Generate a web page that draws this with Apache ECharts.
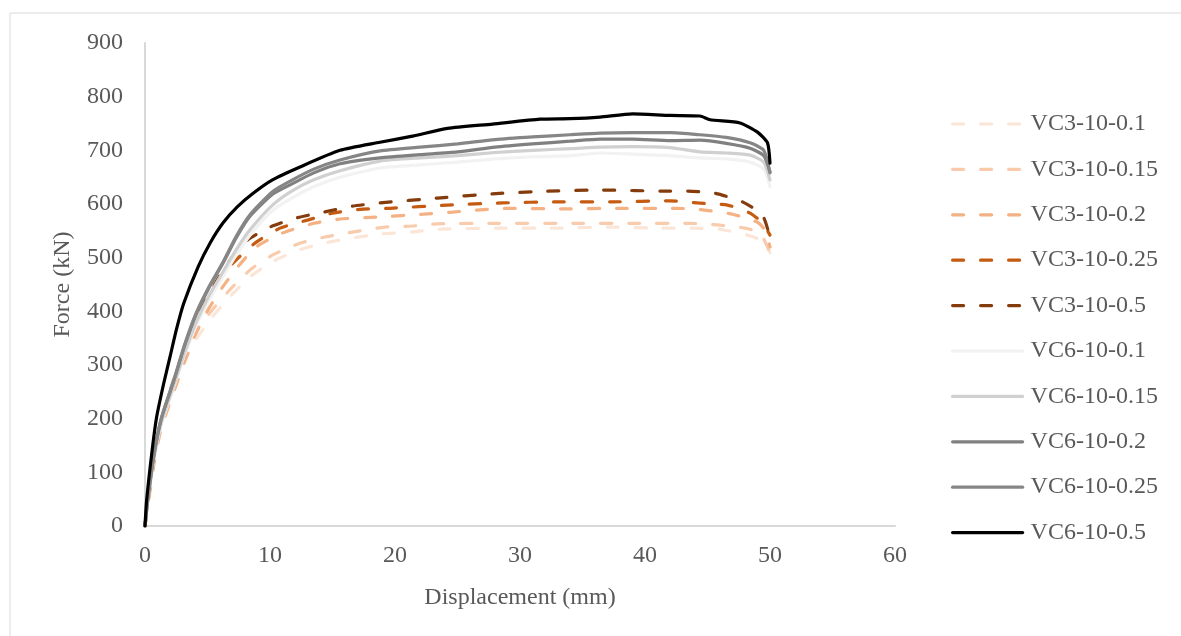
<!DOCTYPE html>
<html>
<head>
<meta charset="utf-8">
<script src="https://cdn.jsdelivr.net/npm/echarts@6/dist/echarts.min.js"></script>
<style>
  html, body { margin: 0; padding: 0; background: #fff; }
  #chart { width: 1181px; height: 636px; }
</style>
</head>
<body>
<div id="chart"></div>
<script>
// series names, in legend order
const seriesNames = ['VC3-10-0.1', 'VC3-10-0.15', 'VC3-10-0.2', 'VC3-10-0.25', 'VC3-10-0.5',
    'VC6-10-0.1', 'VC6-10-0.15', 'VC6-10-0.2', 'VC6-10-0.25', 'VC6-10-0.5'];

// [displacement (mm), force (kN)]
const vc3_01 = [[0,0],[0.3,45],[1,155],[1.6,210],[2.2,255],[3,300],[4.1,348],[5.4,390],[6.9,430],[8.5,466],[10.3,494],[12.4,515],[14.5,528],[16.7,537],[18.8,544],[21.4,548],[23.6,553],[28.2,555],[32.6,555],[37.2,557],[41.4,555],[43.8,555],[46,553],[48.2,542],[49.6,529],[50,509]];
const vc3_015 = [[0,0],[0.3,50],[1,166],[1.6,222],[2.2,268],[3,313],[4.1,362],[5.4,403],[6.9,443],[8.5,479],[10.3,506],[12.4,527],[14.5,539],[16.7,548],[19.2,557],[21.4,559],[23.4,563],[28,564],[34.8,564],[39.2,564],[43.6,564],[45.8,561],[48,555],[49.2,546],[49.8,520],[50,505]];
const vc3_02 = [[0,0],[0.2,38],[0.7,115],[1.3,182],[2.3,250],[3.2,308],[4.1,360],[5.1,405],[6.2,445],[7.5,485],[8.9,520],[11,546],[13.5,564],[15.6,572],[18.8,576],[22.3,581],[24.6,585],[26.8,589],[29,592],[33.4,591],[38,592],[42.6,592],[44.6,589],[47,581],[49,566],[49.6,551],[50,520]];
const vc3_025 = [[0,0],[0.2,40],[0.7,120],[1.3,190],[2.3,260],[3.2,320],[4.1,375],[4.9,420],[5.8,458],[7.3,496],[8.9,529],[10.8,555],[13,570],[15,583],[17.2,590],[19.6,592],[24.2,598],[28.6,602],[33,604],[37.4,604],[42,606],[44.2,602],[46.6,598],[48.4,583],[49.4,565],[50,542]];
const vc3_05 = [[0,0],[0.2,42],[0.7,125],[1.3,195],[2.3,265],[3.2,330],[4.1,385],[5.1,430],[6.2,475],[7.2,508],[8.2,533],[10,557],[12.1,574],[14.3,585],[16.6,596],[18.8,602],[23.4,611],[27.8,619],[32.2,624],[36.6,626],[41.8,624],[43.4,624],[45.6,620],[47.8,604],[49.4,579],[50,538]];
const vc6_01 = [[0,0],[0.2,40],[0.7,120],[1.3,188],[2.3,258],[3.2,320],[4.1,373],[5.1,420],[6.2,463],[7.3,505],[8.4,542],[10.2,588],[11.8,612],[13.5,632],[15.6,650],[18.8,667],[22,673],[25,678],[28,684],[31,688],[34,690],[36.4,695],[39,693],[42,690],[44.4,686],[46.5,684],[48.4,678],[49.5,665],[50,632]];
const vc6_015 = [[0,0],[0.2,42],[0.7,125],[1.3,192],[2.3,262],[3.2,325],[4.1,380],[5.1,428],[6.2,472],[7.3,515],[8.4,552],[10.2,598],[11.8,625],[13.5,645],[15.6,662],[18.8,680],[22,686],[25,690],[28,696],[31,700],[34,703],[36.4,706],[39,707],[42,705],[44.4,697],[46.5,695],[48.4,691],[49.5,678],[50,645]];
const vc6_02 = [[0,0],[0.2,45],[0.7,130],[1.3,200],[2.3,270],[3.2,338],[4.1,395],[5.1,443],[6.2,488],[7.3,537],[8.4,577],[10.2,618],[11.8,638],[13.5,658],[15.6,675],[18.8,686],[22,692],[25,697],[28,706],[31,712],[34,717],[36.4,721],[39,721],[42,718],[44.4,719],[46.5,713],[48.4,704],[49.5,690],[50,660]];
const vc6_025 = [[0,0],[0.2,45],[0.7,130],[1.3,200],[2.3,272],[3.2,340],[4.1,397],[5.1,445],[6.2,490],[7.3,540],[8.4,580],[10.2,623],[11.8,645],[13.5,665],[15.6,682],[18.8,699],[22,706],[25,712],[28,720],[31,725],[34,729],[36.4,732],[39,733],[42,733],[44.4,729],[46.5,724],[48.4,714],[49.5,700],[50,658]];
const vc6_05 = [[0,0],[0.13,48],[0.57,141],[0.93,203],[1.5,266],[2,315],[2.5,365],[3.1,415],[4.25,483],[5.2,527],[6.25,565],[7.4,595],[8.65,620],[10.2,645],[12.4,669],[15.6,700],[18.8,715],[21.5,727],[24.2,741],[27.8,749],[31.6,758],[34,759],[36.4,762],[39,768],[42,765],[44.4,764],[45.2,757],[47.6,751],[49,734],[49.8,714],[50,676]];

const allData = [vc3_01, vc3_015, vc3_02, vc3_025, vc3_05, vc6_01, vc6_015, vc6_02, vc6_025, vc6_05];
const colors = ['#fbe5d6', '#f8cbad', '#f4b183', '#c55a11', '#843c0c',
    '#f2f2f2', '#d0d0d0', '#808080', '#868686', '#000000'];

const font = '"Liberation Serif", "Times New Roman", serif';
const textColor = '#595959';

let myChart = echarts.init(document.getElementById('chart'));

const series = seriesNames.map((name, i) => {
    const dashed = i < 5;
    return {
        name: name,
        type: 'line',
        data: allData[i],
        showSymbol: false,
        symbol: 'none',
        smooth: 0.2,
        color: colors[i],
        lineStyle: {
            color: colors[i],
            width: 3.2,
            type: dashed ? [11, 17] : 'solid',
            cap: 'round'
        }
    };
});

myChart.setOption({
    animation: false,
    backgroundColor: '#fff',
    graphic: [{
        type: 'rect',
        shape: { x: 10, y: 13, width: 1300, height: 800 },
        style: { fill: 'none', stroke: '#d9d9d9', lineWidth: 1 },
        silent: true
    }],
    grid: { left: 145, top: 43, width: 750, height: 483 },
    legend: {
        orient: 'vertical',
        left: 951,
        top: 112,
        padding: 0,
        itemWidth: 70,
        itemHeight: 14,
        itemGap: 21.4,
        data: seriesNames,
        itemStyle: { opacity: 0 },
        lineStyle: { width: 3.2, cap: 'round' },
        textStyle: {
            fontFamily: font,
            fontSize: 24,
            color: textColor,
            lineHeight: 24,
            padding: [0, 0, 0, 3]
        }
    },
    xAxis: {
        type: 'value',
        min: 0,
        max: 60,
        interval: 10,
        name: 'Displacement (mm)',
        nameLocation: 'middle',
        nameGap: 60,
        nameTextStyle: { fontFamily: font, fontSize: 24, color: textColor },
        axisLine: { show: true, lineStyle: { color: '#d9d9d9', width: 2 } },
        axisTick: { show: false },
        splitLine: { show: false },
        axisLabel: { fontFamily: font, fontSize: 24, color: textColor, margin: 18 }
    },
    yAxis: {
        type: 'value',
        min: 0,
        max: 900,
        interval: 100,
        name: 'Force (kN)',
        nameLocation: 'middle',
        nameGap: 70,
        nameTextStyle: { fontFamily: font, fontSize: 24, color: textColor },
        axisLine: { show: true, lineStyle: { color: '#d9d9d9', width: 2 } },
        axisTick: { show: false },
        splitLine: { show: false },
        axisLabel: { fontFamily: font, fontSize: 24, color: textColor, margin: 22 }
    },
    series: series
});

window.addEventListener('resize', () => {
    myChart.resize();
});
</script>
</body>
</html>
